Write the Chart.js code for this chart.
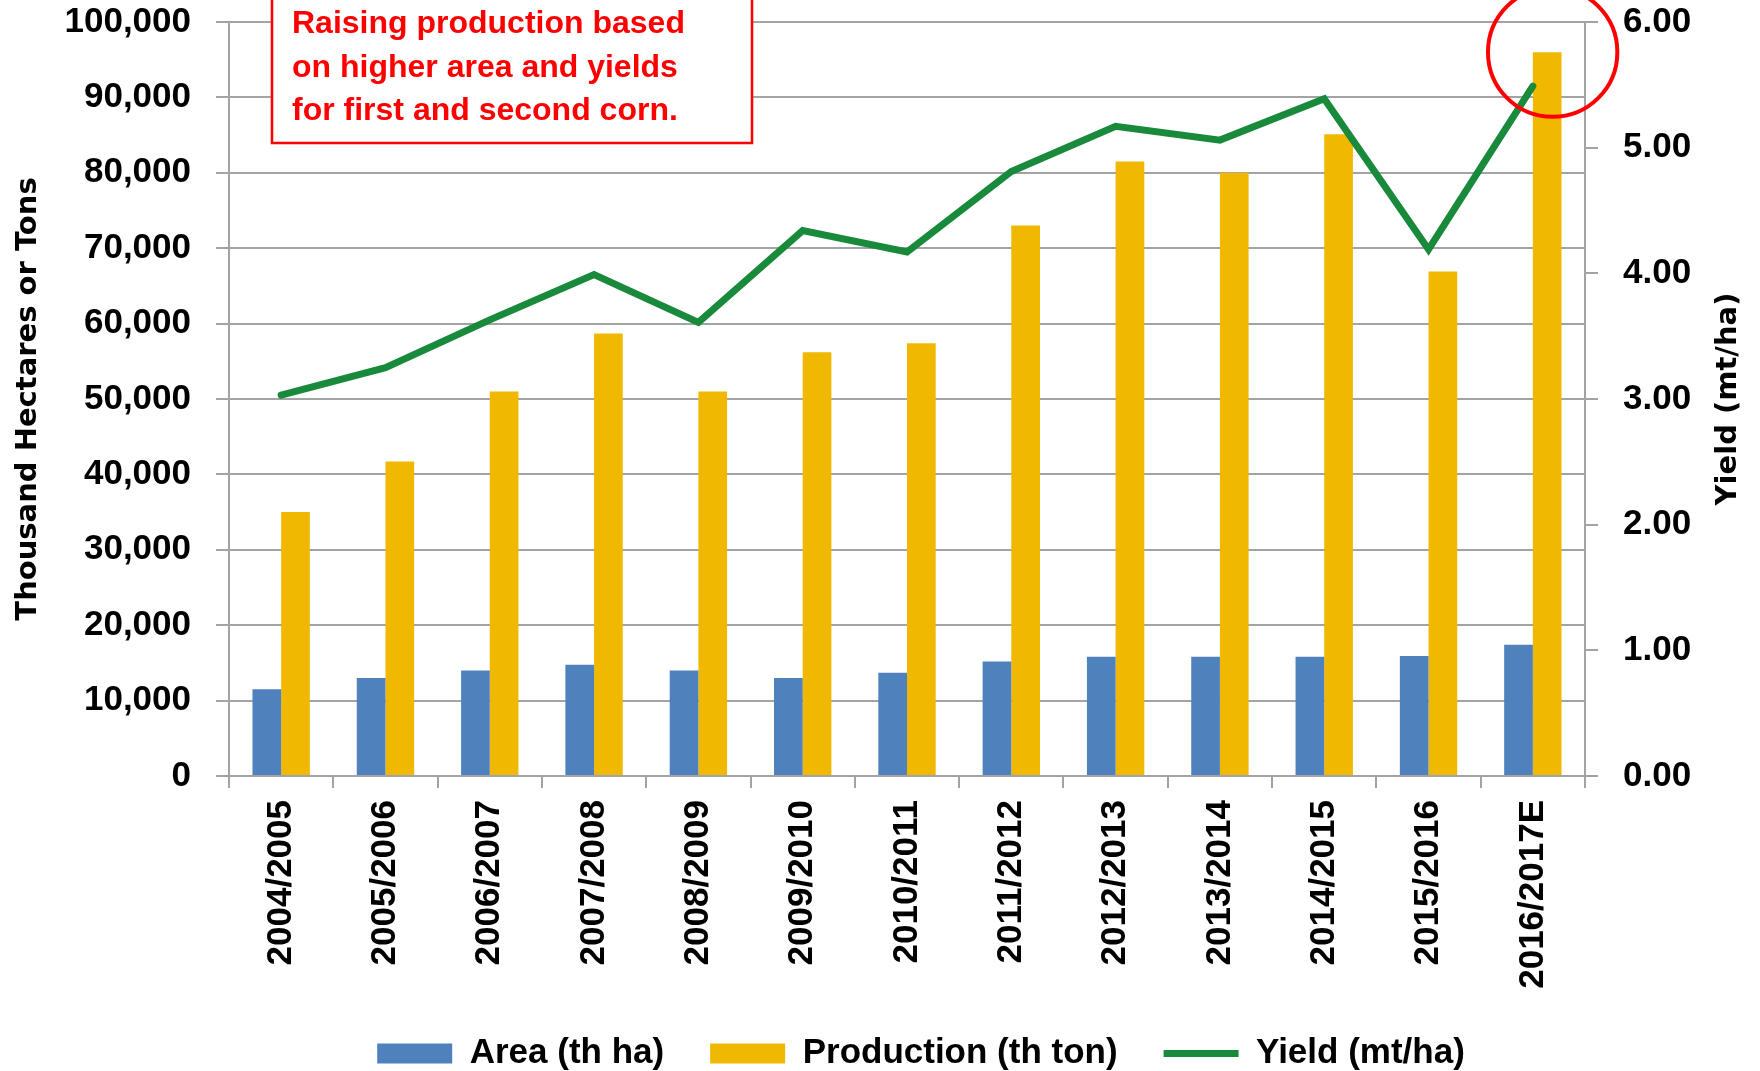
<!DOCTYPE html>
<html>
<head>
<meta charset="utf-8">
<title>Corn area, production and yield</title>
<script src="https://cdn.jsdelivr.net/npm/chart.js@4.4.1/dist/chart.umd.min.js"></script>
<style>
  html, body { margin: 0; padding: 0; background: #fff; }
  canvas { display: block; }
</style>
</head>
<body>
<canvas id="cornChart" width="1760" height="1071"></canvas>
<script>
const seasons = [
  "2004/2005", "2005/2006", "2006/2007", "2007/2008", "2008/2009", "2009/2010",
  "2010/2011", "2011/2012", "2012/2013", "2013/2014", "2014/2015", "2015/2016", "2016/2017E"
];
// thousand hectares
const areaThHa = [11500, 13000, 14000, 14750, 14000, 13000, 13700, 15200, 15800, 15800, 15800, 15900, 17400];
// thousand tons
const productionThTon = [35000, 41700, 51000, 58700, 51000, 56200, 57400, 73000, 81500, 80000, 85100, 66900, 96000];
// mt/ha
const yieldMtHa = [3.03, 3.25, 3.63, 3.99, 3.61, 4.34, 4.17, 4.81, 5.17, 5.06, 5.39, 4.19, 5.49];

const noteLines = [
  "Raising production based",
  "on higher area and yields",
  "for first and second corn."
];

const SANS = "'Liberation Sans', Arial, sans-serif";
const WIDE = "'DejaVu Sans', Verdana, sans-serif";
const GRID = "#a3a3a3";
const tickFont = { family: SANS, size: 35, weight: "bold", lineHeight: 1 };

// the tick padding would otherwise push the plot area down
function fixWidth(w) {
  return (s) => {
    s.width = w;
    s.paddingTop = 18;
    s.paddingBottom = 18;
  };
}

// left title is a normal scale title; the right one reads bottom-to-top, so draw it here
const extras = {
  id: "extras",
  afterLayout(chart) {
    // nudge the legend row a little to the right
    chart.legend.left += 14;
    chart.legend.right += 14;
  },
  afterDraw(chart) {
    const { ctx, chartArea, scales } = chart;
    const midY = (chartArea.top + chartArea.bottom) / 2;

    ctx.save();
    ctx.translate(1728, midY);
    ctx.rotate(-Math.PI / 2);
    ctx.font = "bold 29px " + WIDE;
    ctx.fillStyle = "#000";
    ctx.textAlign = "center";
    ctx.textBaseline = "middle";
    ctx.fillText("Yield (mt/ha)", 0, 0);
    ctx.restore();

    // note box
    const bx = chartArea.left + 43, bw = 480;
    ctx.save();
    ctx.fillStyle = "#fff";
    ctx.fillRect(bx, -5, bw, 148);
    ctx.strokeStyle = "#ff0000";
    ctx.lineWidth = 2.5;
    ctx.strokeRect(bx, -5, bw, 148);
    ctx.fillStyle = "#ff0000";
    ctx.font = "bold 32px " + SANS;
    ctx.textBaseline = "alphabetic";
    noteLines.forEach((t, i) => ctx.fillText(t, bx + 20, 33 + i * 43.5));
    ctx.restore();

    // highlight ring around the latest estimate
    const last = seasons.length - 1;
    const step = scales.x.getPixelForValue(1) - scales.x.getPixelForValue(0);
    const cx = scales.x.getPixelForValue(last) + step * 0.19;
    const cy = scales.y.getPixelForValue(productionThTon[last]);
    ctx.save();
    ctx.strokeStyle = "#ff0000";
    ctx.lineWidth = 4;
    ctx.beginPath();
    ctx.arc(cx, cy, step * 0.62, 0, Math.PI * 2);
    ctx.stroke();
    ctx.restore();
  }
};

new Chart(document.getElementById("cornChart"), {
  type: "bar",
  data: {
    labels: seasons,
    datasets: [
      {
        label: "Area (th ha)",
        data: areaThHa,
        backgroundColor: "#4f81bd",
        pointStyle: "rect",
        yAxisID: "y"
      },
      {
        label: "Production (th ton)",
        data: productionThTon,
        backgroundColor: "#f0b800",
        pointStyle: "rect",
        yAxisID: "y"
      },
      {
        type: "line",
        label: "Yield (mt/ha)",
        data: yieldMtHa,
        borderColor: "#198a3b",
        backgroundColor: "#198a3b",
        borderWidth: 7,
        borderCapStyle: "round",
        pointRadius: 0,
        pointStyle: "line",
        tension: 0,
        order: -1,
        yAxisID: "y1"
      }
    ]
  },
  options: {
    responsive: false,
    animation: false,
    devicePixelRatio: 1,
    layout: { padding: { top: 22, left: 0, right: 0, bottom: 0 } },
    datasets: {
      bar: { categoryPercentage: 0.55, barPercentage: 1 }
    },
    plugins: {
      tooltip: { enabled: false },
      legend: {
        position: "bottom",
        fullSize: false,
        maxHeight: 81,
        labels: {
          usePointStyle: true,
          pointStyleWidth: 75,
          boxHeight: 20,
          padding: 46,
          color: "#000",
          font: { family: SANS, size: 35, weight: "bold" },
          sort: (a, b) => a.datasetIndex - b.datasetIndex
        }
      }
    },
    scales: {
      x: {
        offset: true,
        afterFit: (s) => { s.height = 214; },
        grid: { display: true, drawOnChartArea: false, offset: true, tickLength: 12, color: GRID, lineWidth: 2 },
        border: { color: GRID, width: 2 },
        ticks: {
          minRotation: 90,
          maxRotation: 90,
          autoSkip: false,
          padding: 12,
          color: "#000",
          font: tickFont
        }
      },
      y: {
        position: "left",
        min: 0,
        max: 100000,
        afterFit: fixWidth(229),
        grid: { color: GRID, lineWidth: 2, tickLength: 13 },
        border: { color: GRID, width: 2 },
        ticks: {
          stepSize: 10000,
          padding: 25,
          color: "#000",
          font: tickFont,
          callback: (v) => v.toLocaleString("en-US")
        },
        title: {
          display: true,
          text: "Thousand Hectares or Tons",
          color: "#000",
          font: { family: WIDE, size: 29, weight: "bold" },
          padding: { top: 11, bottom: 0 }
        }
      },
      y1: {
        position: "right",
        min: 0,
        max: 6,
        afterFit: fixWidth(175),
        grid: { drawOnChartArea: false, color: GRID, lineWidth: 2, tickLength: 13 },
        border: { color: GRID, width: 2 },
        ticks: {
          stepSize: 1,
          padding: 25,
          color: "#000",
          font: tickFont,
          callback: (v) => v.toFixed(2)
        }
      }
    }
  },
  plugins: [extras]
});
</script>
</body>
</html>
